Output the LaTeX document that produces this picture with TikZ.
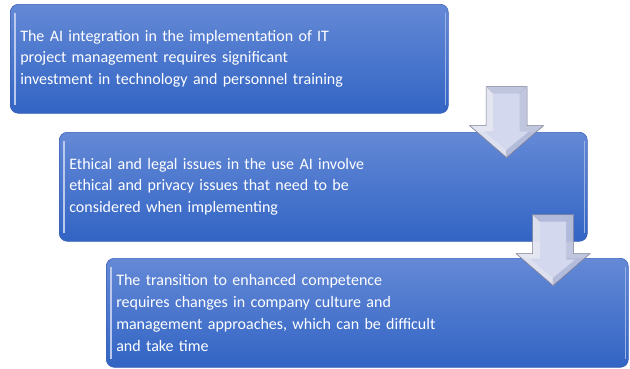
\documentclass[tikz,border=0pt]{standalone}
\usepackage{fontspec}
\setmainfont{Carlito}
\usepackage{tikz}
\usetikzlibrary{positioning,calc}
\usepackage{xcolor}
\definecolor{boxtop}{RGB}{100,137,214}
\definecolor{boxbot}{RGB}{50,100,196}
\definecolor{boxline}{RGB}{62,98,182}
\definecolor{arrowside}{RGB}{188,193,220}
\definecolor{arrowface}{RGB}{214,218,240}
\definecolor{arrowline}{RGB}{125,126,148}

\begin{document}
\begin{tikzpicture}[x=1pt,y=-1pt,
    stepbox/.style={rectangle,rounded corners=8pt,top color=boxtop,bottom color=boxbot,
      draw=boxline,line width=0.6pt,minimum height=109pt,text=white,align=left,
      inner xsep=10pt,anchor=north west,font=\fontsize{16}{21.8}\selectfont},
    blockarrow/.pic={
      % outer body
      \fill[arrowside,opacity=0.92] (-20.5,0) -- (20.5,0) -- (20.5,39) -- (37,39)
        -- (0,71) -- (-37,39) -- (-20.5,39) -- cycle;
      % bevel: light left facet, face in the middle
      \fill[white,opacity=0.55] (-20.5,0) -- (-13,7) -- (-13,45) -- (-22,45)
        -- (0,63) -- (0,71) -- (-37,39) -- (-20.5,39) -- cycle;
      \fill[arrowface,opacity=0.95] (-13,7) -- (13,7) -- (13,45) -- (22,45)
        -- (0,63) -- (-22,45) -- (-13,45) -- cycle;
      \draw[arrowline,line width=0.6pt] (-20.5,0) -- (20.5,0) -- (20.5,39) -- (37,39)
        -- (0,71) -- (-37,39) -- (-20.5,39) -- cycle;
      \draw[arrowline!60,line width=0.3pt] (-20.5,0) -- (-13,7) (20.5,0) -- (13,7)
        (0,71) -- (0,63);
    }]
  \useasboundingbox (0,0) rectangle (630,368);
  % Steps
  \node[stepbox,text width=418pt] (box1) at (10,4)
    {The AI integration in the implementation of IT\\
     project management requires significant\\
     investment in technology and personnel training};
  \node[stepbox,text width=508pt] (box2) at (59,132)
    {Ethical and legal issues in the use AI involve\\
     ethical and privacy issues that need to be\\
     considered when implementing};
  \node[stepbox,text width=502pt] (box3) at (106,258)
    {The transition to enhanced competence\\
     requires changes in company culture and\\
     management approaches, which can be difficult\\
     and take time};
  % Edge highlights
  \foreach \b in {box1,box2,box3} {
    \draw[white!55!boxtop,line width=1.6pt] ([shift={(5,9)}]\b.north west) -- ([shift={(5,-9)}]\b.south west);
    \draw[white!35!boxtop,line width=1.2pt] ([shift={(-3,9)}]\b.north east) -- ([shift={(-3,-9)}]\b.south east);
  }
  % Arrows between the steps
  \path (box1.south east) ++(58,-27) coordinate (arr1);
  \path (box2.south east) ++(-34.5,-27) coordinate (arr2);
  \foreach \a in {arr1,arr2}
    \pic at (\a) {blockarrow};
\end{tikzpicture}
\end{document}
